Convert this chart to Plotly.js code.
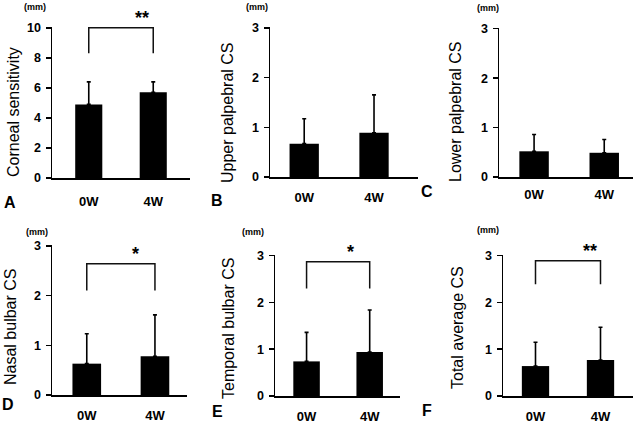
<!DOCTYPE html>
<html>
<head>
<meta charset="utf-8">
<script src="https://cdn.plot.ly/plotly-3.0.1.min.js"></script>
<style>html,body{margin:0;padding:0;background:#fff;}#chart{width:640px;height:425px;}</style>
</head>
<body>
<div id="chart"></div>
<script>
// ---- data ----
const categories = ['0W', '4W'];
const cornealMean = [4.9, 5.7];
const cornealSD = [1.5, 0.7];
const upperPalpMean = [0.67, 0.89];
const upperPalpSD = [0.5, 0.76];
const lowerPalpMean = [0.52, 0.49];
const lowerPalpSD = [0.34, 0.27];
const nasalBulbMean = [0.63, 0.78];
const nasalBulbSD = [0.6, 0.83];
const tempBulbMean = [0.74, 0.94];
const tempBulbSD = [0.62, 0.9];
const totalAvgMean = [0.64, 0.77];
const totalAvgSD = [0.51, 0.7];
const yTitles = ['Corneal sensitivity', 'Upper palpebral CS', 'Lower palpebral CS', 'Nasal bulbar CS', 'Temporal bulbar CS', 'Total average CS'];
const panelLetters = ['A', 'B', 'C', 'D', 'E', 'F'];
const unitLabel = '(mm)';
// significance: [marker text, bracket top value, bracket leg bottom value] (null = none)
const significance = [['**', 10, 8.3], null, null, ['*', 2.64, 2.1], ['*', 2.87, 2.3], ['**', 2.89, 2.39]];

const means = [cornealMean, upperPalpMean, lowerPalpMean, nasalBulbMean, tempBulbMean, totalAvgMean];
const sds = [cornealSD, upperPalpSD, lowerPalpSD, nasalBulbSD, tempBulbSD, totalAvgSD];

// ---- layout geometry (pixels) ----
const W = 640, H = 425;
const geo = [
  {xd:[52,190], xr:[-0.57,1.57], yd:[27,178], ymax:10, dtick:2, tls:11, title:[13,112], mm:[35,7], letter:[10,202], star:[0.82], },
  {xd:[270,418], xr:[-0.49,1.63], yd:[27,177], ymax:3, dtick:1, tls:8, title:[227,113], mm:[257,7], letter:[217,200]},
  {xd:[499,633], xr:[-0.5,1.41], yd:[28,177], ymax:3, dtick:1, tls:5, title:[455,112], mm:[488,8], letter:[427,191]},
  {xd:[52,187], xr:[-0.51,1.47], yd:[245,395], ymax:3, dtick:1, tls:8, title:[10,327], mm:[37,232], letter:[8,404], star:[0.72]},
  {xd:[275,400], xr:[-0.5,1.48], yd:[255,396], ymax:3, dtick:1, tls:8, title:[228,329], mm:[253,232], letter:[217,411], star:[0.69]},
  {xd:[503,633], xr:[-0.5,1.5], yd:[255,396], ymax:3, dtick:1, tls:8, title:[457,328], mm:[488,230], letter:[427,410], star:[0.84]}
];
const FONT = 'Liberation Sans, Arial, sans-serif';
const px = x => x / W;
const py = y => 1 - y / H;

const data = [];
const layout = {
  width: W, height: H,
  margin: {l:0, r:0, t:0, b:0},
  paper_bgcolor: '#fff', plot_bgcolor: '#fff',
  showlegend: false,
  font: {family: FONT, color: '#000'},
  annotations: [], shapes: []
};

geo.forEach((g, i) => {
  const n = i + 1;
  const xk = n === 1 ? 'x' : 'x' + n;
  const yk = n === 1 ? 'y' : 'y' + n;
  data.push({
    type: 'bar', x: categories, y: means[i], xaxis: xk, yaxis: yk,
    width: 0.42,
    marker: {color: '#000', line: {width: 0}},
    error_y: {type: 'data', symmetric: false, array: sds[i], arrayminus: [0, 0], color: '#000', thickness: 1.6, width: 2},
    hoverinfo: 'none'
  });
  layout['xaxis' + (n === 1 ? '' : n)] = {
    domain: [px(g.xd[0]), px(g.xd[1])], range: g.xr, type: 'category', anchor: yk,
    showline: true, linewidth: 1.5, linecolor: '#000', ticks: '', showgrid: false, zeroline: false,
    tickfont: {family: FONT, size: 13, weight: 'bold', color: '#000'},
    ticklabelstandoff: g.tls, fixedrange: true
  };
  layout['yaxis' + (n === 1 ? '' : n)] = {
    domain: [py(g.yd[1]), py(g.yd[0])], range: [0, g.ymax * 1.005], dtick: g.dtick, tick0: 0, anchor: xk,
    showline: true, linewidth: 1.5, linecolor: '#000', ticks: 'outside', ticklen: 5, tickwidth: 1.5, tickcolor: '#000',
    showgrid: false, zeroline: false,
    tickfont: {family: FONT, size: 12.5, weight: 'bold', color: '#000'},
    ticklabelstandoff: 2, fixedrange: true
  };
  // y title
  layout.annotations.push({xref: 'paper', yref: 'paper', x: px(g.title[0]), y: py(g.title[1]), text: yTitles[i], textangle: -90,
    showarrow: false, xanchor: 'center', yanchor: 'middle', font: {family: FONT, size: 16, color: '#000'}});
  // unit
  layout.annotations.push({xref: 'paper', yref: 'paper', x: px(g.mm[0]), y: py(g.mm[1]), text: unitLabel,
    showarrow: false, xanchor: 'center', yanchor: 'middle', font: {family: FONT, size: 9, weight: 'bold', color: '#000'}});
  // letter
  layout.annotations.push({xref: 'paper', yref: 'paper', x: px(g.letter[0]), y: py(g.letter[1]), text: panelLetters[i],
    showarrow: false, xanchor: 'center', yanchor: 'middle', font: {family: FONT, size: 16, weight: 'bold', color: '#000'}});
  const s = significance[i];
  if (s) {
    layout.shapes.push({type: 'path', xref: xk, yref: yk,
      path: `M 0,${s[2]} L 0,${s[1]} L 1,${s[1]} L 1,${s[2]}`,
      line: {color: '#111', width: 1.5}});
    layout.annotations.push({xref: xk, yref: yk, x: g.star[0], y: s[1], text: s[0], showarrow: false,
      xanchor: 'center', yanchor: 'bottom', yshift: -2, font: {family: FONT, size: 18, weight: 'bold', color: '#000'}});
  }
});

Plotly.newPlot('chart', data, layout, {displayModeBar: false, staticPlot: true});
</script>
</body>
</html>
